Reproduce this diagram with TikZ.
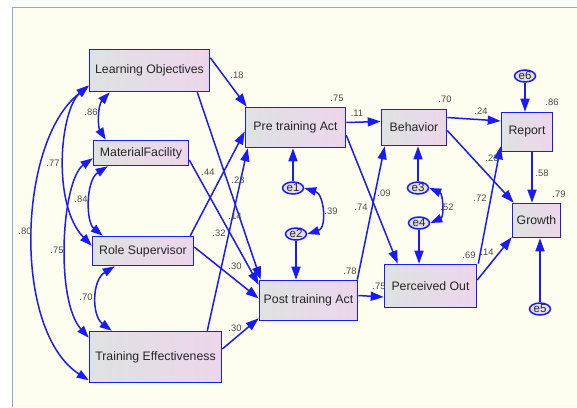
\documentclass[tikz,border=0pt]{standalone}
\usepackage{fontspec}
\setmainfont{Liberation Sans}
\usetikzlibrary{arrows.meta,calc,shapes.geometric}
\definecolor{bg}{HTML}{FEFEF0}
\definecolor{framec}{HTML}{8DA9DB}
\definecolor{lineblue}{HTML}{1A1AFF}
\definecolor{boxL}{HTML}{DEE2E2}
\definecolor{boxR}{HTML}{EDD6EC}
\definecolor{txt}{HTML}{262626}
\definecolor{lab}{HTML}{4A4A4A}
\definecolor{ellf}{HTML}{E2DDEB}
\begin{document}
\begin{tikzpicture}[x=1pt,y=-1pt,
  box/.style={draw=lineblue, line width=1.6pt, left color=boxL, right color=boxR, inner sep=0pt, font=\fontsize{12.3}{14}\selectfont, text=txt},
  err/.style={ellipse, draw=lineblue, line width=1.5pt, fill=ellf, inner sep=0pt, minimum width=21pt, minimum height=12pt, font=\fontsize{11.5}{12}\selectfont, text=txt},
  reg/.style={lineblue, line width=1.5pt, -{Triangle[length=13pt,width=9pt]}},
  covar/.style={lineblue, line width=1.5pt, {Triangle[length=12pt,width=8.5pt]}-{Triangle[length=12pt,width=8.5pt]}},
  lbl/.style={text=lab, font=\fontsize{9.4}{10}\selectfont, inner sep=0pt},
]
\useasboundingbox (0,0) rectangle (577,407);
\fill[white] (0,0) rectangle (577,407);
\fill[bg] (12,7) rectangle (577,407);
\draw[framec, line width=1pt] (12,407) -- (12,7) -- (577,7);

% observed variables
\node[box, minimum width=120pt, minimum height=42pt] (LO) at (149.5,70.5) {Learning Objectives};
\node[box, minimum width=95pt, minimum height=25pt] (MF) at (141,153) {MaterialFacility};
\node[box, minimum width=101pt, minimum height=29pt] (RS) at (143,251) {Role Supervisor};
\node[box, minimum width=132pt, minimum height=51pt] (TE) at (155.5,357) {Training Effectiveness};
\node[box, minimum width=100pt, minimum height=40pt] (Pre) at (295.5,127.5) {Pre training Act};
\node[box, minimum width=98pt, minimum height=40pt] (Post) at (308.5,300.5) {Post training Act};
\node[box, minimum width=65pt, minimum height=36pt] (Beh) at (414,127.5) {Behavior};
\node[box, minimum width=92pt, minimum height=43pt] (PO) at (430.5,286) {Perceived Out};
\node[box, minimum width=51pt, minimum height=39pt] (Rep) at (527,132) {Report};
\node[box, minimum width=48pt, minimum height=34pt] (Gro) at (536.5,220.5) {Growth};

% error terms
\node[err] (e1) at (293,188) {e1};
\node[err] (e2) at (296,234) {e2};
\node[err] (e3) at (418,188) {e3};
\node[err] (e4) at (419,223) {e4};
\node[err] (e5) at (540,309) {e5};
\node[err] (e6) at (525,76) {e6};

% left covariances
\draw[covar] ($(LO.south west)+(21,0)$) .. controls +(-12,13) and +(-8,-13) .. ($(MF.north west)+(13,0)$);
\draw[covar] ($(MF.south west)+(15,0)$) .. controls +(-22,14) and +(-17,-14) .. ($(RS.north west)+(11,0)$);
\draw[covar] ($(RS.south west)+(23,0)$) .. controls +(-23,14) and +(-20,-15) .. ($(TE.north west)+(23,0)$);
\draw[covar] ($(LO.south west)+(0,-7)$) .. controls +(-29,25) and +(-40,-41) .. ($(RS.north west)+(0,10)$);
\draw[covar] ($(MF.south west)+(0,-8)$) .. controls +(-31,22) and +(-34,-38) .. ($(TE.north west)+(0,7)$);
\draw[covar] ($(LO.south west)+(0,-6)$) .. controls +(-71,54) and +(-77,-50) .. ($(TE.south west)+(0,-3)$);

% exogenous paths
\draw[reg] ($(LO.north east)+(0,9)$) -- ($(Pre.north west)+(2,0)$);
\draw[reg] ($(LO.south east)+(-13,0)$) -- ($(Post.north west)+(2,0)$);
\draw[reg] ($(MF.east)+(0,7)$) -- ($(Post.north west)+(0,5)$);
\draw[reg] ($(RS.north east)+(-4,0)$) -- ($(Pre.west)+(0,4)$);
\draw[reg] ($(RS.east)+(0,-4)$) -- ($(Post.west)+(0,-2)$);
\draw[reg] ($(TE.north east)+(-15,0)$) -- ($(Pre.south west)+(3,0)$);
\draw[reg] ($(TE.east)+(0,-8)$) -- ($(Post.south west)+(0,-3)$);

% right side paths
\draw[reg] ($(Pre.east)+(0,-5)$) -- ($(Beh.west)+(0,-6)$);
\draw[reg] ($(Pre.south east)+(0,-13)$) -- ($(PO.north west)+(14,0)$);
\draw[reg] ($(Post.north east)+(-1,0)$) -- ($(Beh.south west)+(4,0)$);
\draw[reg] ($(Post.east)+(0,-5)$) -- ($(PO.west)+(0,11)$);
\draw[reg] ($(Beh.east)+(0,-10)$) -- ($(Rep.west)+(0,-11)$);
\draw[reg] ($(Beh.east)+(0,3)$) -- ($(Gro.north west)+(2,0)$);
\draw[reg] ($(PO.north east)+(1,0)$) -- ($(Rep.south west)+(0,-6)$);
\draw[reg] ($(PO.east)+(0,-6)$) -- ($(Gro.south west)+(0,-1)$);
\coordinate (r1) at ($(Rep.south)+(5,0)$);
\draw[reg] (r1) -- (r1 |- Gro.north);

% error paths
\draw[reg] (e1.north) -- (e1.north |- Pre.south);
\draw[reg] (e2.south) -- (e2.south |- Post.north);
\draw[reg] (e3.north) -- (e3.north |- Beh.south);
\draw[reg] (e4.south) -- (e4.south |- PO.north);
\draw[reg] (e6.south) -- (e6.south |- Rep.north);
\draw[reg] (e5.north) -- (e5.north |- Gro.south);
\draw[covar] (e1.east) .. controls +(20,6) and +(20,-6) .. (e2.east);
\draw[covar] (e3.east) .. controls +(14,6) and +(14,-6) .. (e4.east);

% labels
\node[lbl] (l1) at (237,75) {.18};
\node[lbl] (l2) at (91,112) {.86};
\node[lbl] (l3) at (53,163) {.77};
\node[lbl] (l4) at (81,199) {.84};
\node[lbl] (l5) at (25,231) {.80};
\node[lbl] (l6) at (57,250) {.75};
\node[lbl] (l7) at (86,297) {.70};
\node[lbl] (l8) at (208,172) {.44};
\node[lbl] (l9) at (238,180) {.23};
\node[lbl] (l10) at (235,216) {.14};
\node[lbl] (l11) at (219,233) {.32};
\node[lbl] (l12) at (235,266) {.30};
\node[lbl] (l13) at (235,328) {.30};
\node[lbl] (l14) at (331,211) {.39};
\node[lbl] (l15) at (337,98) {.75};
\node[lbl] (l16) at (357,113) {.11};
\node[lbl] (l17) at (445,99) {.70};
\node[lbl] (l18) at (481,111) {.24};
\node[lbl] (l19) at (552,102) {.86};
\node[lbl] (l20) at (492,158) {.20};
\node[lbl] (l21) at (542,173) {.58};
\node[lbl] (l22) at (559,194) {.79};
\node[lbl] (l23) at (384,193) {.09};
\node[lbl] (l24) at (361,207) {.74};
\node[lbl] (l25) at (480,198) {.72};
\node[lbl] (l26) at (447,207) {.52};
\node[lbl] (l27) at (350,271) {.78};
\node[lbl] (l28) at (379,286) {.75};
\node[lbl] (l29) at (469,255) {.69};
\node[lbl] (l30) at (487,252) {.14};
\end{tikzpicture}
\end{document}
